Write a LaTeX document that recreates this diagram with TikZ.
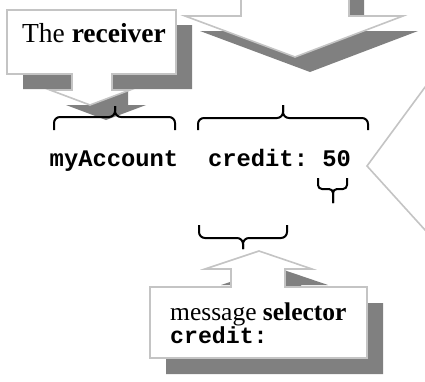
\documentclass[tikz,border=0pt]{standalone}
\usepackage{fontspec}
\setmainfont{Liberation Serif}
\setmonofont{Liberation Mono}
\definecolor{shadowgray}{HTML}{808080}
\definecolor{outlinegray}{HTML}{C4C4C4}

% two-sided curly brace: x1, x2, x-middle, y at the ends, y of the bar, y of the tip
\newcommand\curlybrace[7][6pt]{%
  \draw[bracestroke,rounded corners=#1] (#2,#5) -- (#2,#6) -- (#4,#6) -- (#4,#7);
  \draw[bracestroke,rounded corners=#1] (#3,#5) -- (#3,#6) -- (#4,#6) -- (#4,#7);}
\newcommand\codefont{\fontsize{23.2}{22.5}\selectfont\ttfamily\bfseries}
\newcommand\selectorfont{\fontsize{25.5}{22.5}\selectfont\lineskiplimit=-40pt\relax}

\begin{document}
\begin{tikzpicture}[x=1pt,y=-1pt,
  shadowfill/.style={fill=shadowgray,draw=none},
  calloutbox/.style={fill=white,draw=outlinegray,line width=1.6pt,line join=miter},
  bracestroke/.style={draw=black,line width=2pt,line cap=butt},
  seriftext/.style={inner sep=0pt,font=\fontsize{27.5}{30}\selectfont},
  selectortext/.style={inner sep=0pt,align=left,font=\selectorfont},
  codetext/.style={inner sep=0pt,font=\fontsize{23.8}{26}\selectfont\ttfamily\bfseries}]

\useasboundingbox (0,0) rectangle (425,381);
\clip (0,0) rectangle (425,381);
\fill[white] (0,0) rectangle (425,381);

% --- shadows ---
% receiver callout
\fill[shadowfill,shift={(16,15)}]
  (7,10) -- (176,10) -- (176,74) -- (112,74) -- (112,90) -- (130,90)
  -- (90,105) -- (50,90) -- (72,90) -- (72,74) -- (7,74) -- cycle;
% big arrow at the top
\fill[shadowfill,shift={(15,15)}]
  (241,-30) -- (349,-30) -- (349,16) -- (403,16) -- (295,57)
  -- (185,16) -- (241,16) -- cycle;
% selector callout
\fill[shadowfill,shift={(16,16)}]
  (150,287) -- (231,287) -- (231,269) -- (205,269) -- (259,251)
  -- (312,269) -- (285,269) -- (285,287) -- (367,287) -- (367,358)
  -- (150,358) -- cycle;

% --- white callout shapes ---
\draw[calloutbox]
  (7,10) -- (176,10) -- (176,74) -- (112,74) -- (112,90) -- (130,90)
  -- (90,105) -- (50,90) -- (72,90) -- (72,74) -- (7,74) -- cycle;
\draw[calloutbox]
  (241,-30) -- (349,-30) -- (349,16) -- (403,16) -- (295,57)
  -- (185,16) -- (241,16) -- cycle;
\draw[calloutbox]
  (150,287) -- (231,287) -- (231,269) -- (205,269) -- (259,251)
  -- (312,269) -- (285,269) -- (285,287) -- (367,287) -- (367,358)
  -- (150,358) -- cycle;
% argument callout pointing in from the right
\draw[calloutbox] (445,60) -- (367,166) -- (445,252);

% --- texts ---
\node[seriftext,anchor=base] (receiver) at (94,42) {The \textbf{receiver}};
\node[codetext,anchor=base] (acct) at (114,166) {myAccount};
\node[codetext,anchor=base] (msg) at (279.5,166) {credit:~50};
\node[selectortext,anchor=north west] (sel) at (170,303)
  {message \textbf{selector}\\{\codefont credit:}};

% --- braces ---
\curlybrace{54}{175}{115}{130}{117}{106}
\curlybrace{198}{368}{283}{130}{118}{105}
\curlybrace[4pt]{318}{347}{333}{178}{189}{203}
\curlybrace{199}{287}{243}{225}{238}{249}

\end{tikzpicture}
\end{document}
